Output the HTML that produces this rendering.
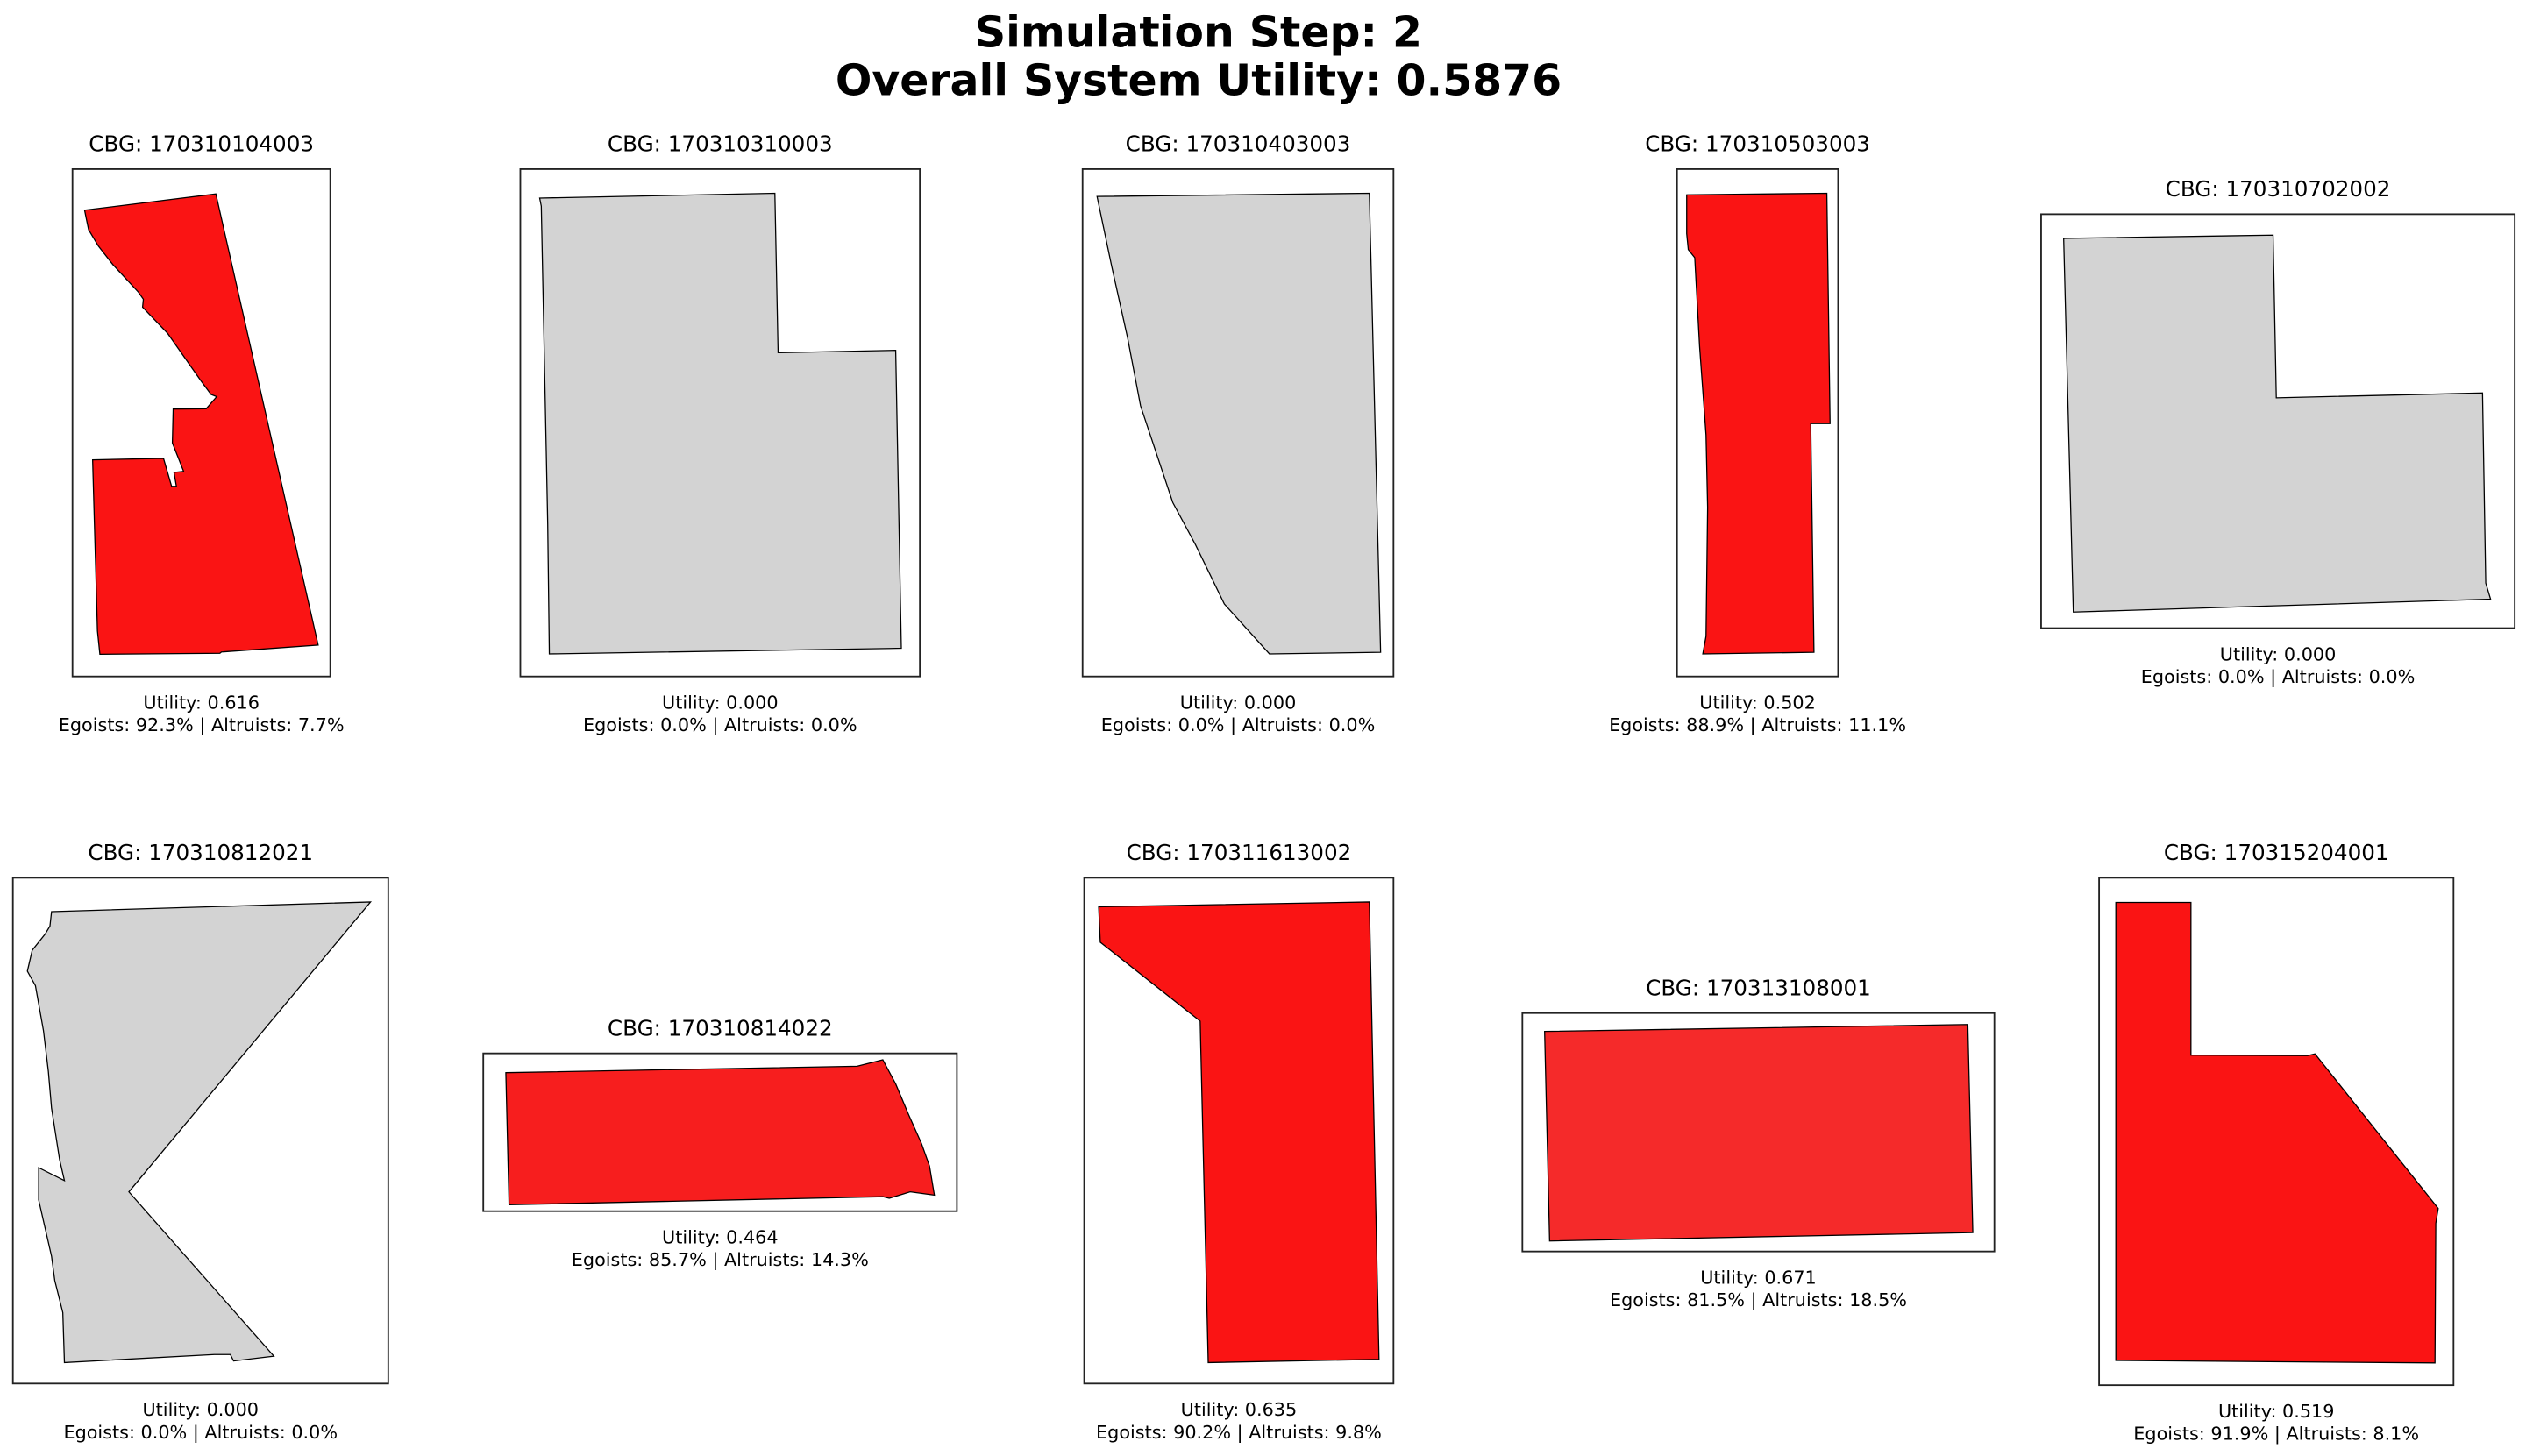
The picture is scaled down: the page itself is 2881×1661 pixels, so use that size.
<!DOCTYPE html>
<html><head><meta charset="utf-8"><style>
html,body{margin:0;padding:0;background:#fff;}
svg{display:block;}
text{font-family:"DejaVu Sans","Liberation Sans",sans-serif;fill:#000;}
</style></head><body>
<svg id="fig" width="2881" height="1661" viewBox="0 0 1568 904" preserveAspectRatio="none" xmlns="http://www.w3.org/2000/svg">
<text x="744" y="29" font-size="26.6" font-weight="bold" text-anchor="middle">Simulation Step: 2</text>
<text x="744" y="59" font-size="26.6" font-weight="bold" text-anchor="middle">Overall System Utility: 0.5876</text>
<g id="panels"></g>
</svg>
<script>
const cbgIds = ["170310104003","170310310003","170310403003","170310503003","170310702002","170310812021","170310814022","170311613002","170313108001","170315204001"];
const utilities = [0.616,0.000,0.000,0.502,0.000,0.000,0.464,0.635,0.671,0.519];
const egoistPct = [92.3,0.0,0.0,88.9,0.0,0.0,85.7,90.2,81.5,91.9];
const altruistPct = [7.7,0.0,0.0,11.1,0.0,0.0,14.3,9.8,18.5,8.1];
const boxes = [[45,105,205,420],[323,105,571,420],[672,105,865,420],[1041,105,1141,420],[1267,133,1561,390],
 [8,545,241,859],[300,654,594,752],[673,545,865,859],[945,629,1238,777],[1303,545,1523,860]];
const fills = ["#fa1414","#d3d3d3","#d3d3d3","#fa1414","#d3d3d3","#d3d3d3","#f71e1e","#fa1414","#f52a2a","#fa1414"];
const shapes = [
 [[52.5,130.5],[134,120.4],[197.5,400.5],[137.5,404.8],[136.5,405.6],[62,406.2],[60.5,391.8],[57.5,285.5],[101.5,284.6],[106.5,301.9],[109.5,301.9],[108,293.3],[114,292.7],[107,275],[107.5,254],[128,253.8],[134.5,246.3],[131,244.9],[125,236.8],[104,206.9],[88.5,190.7],[89,185.8],[86,181.5],[70,164.2],[61,152.7],[55,142.6],[53.5,135.4]],
 [[335,123],[481,120],[483,219],[556,217.5],[559.5,402.5],[341,406],[340,325.5],[336,128]],
 [[681,122],[850,120],[857,405],[788,406],[760,375],[742,338],[728,312],[718,282],[708,252],[700,210],[690,165]],
 [[1047,121],[1134,120],[1136,263],[1124,263],[1126,405],[1057,406],[1059,395],[1060,315],[1059,270],[1055,215],[1052,160],[1048,155],[1047,145]],
 [[1281,148],[1411,146],[1413,247],[1541,244],[1543,362],[1546,372],[1287,380]],
 [[32,566],[230,560],[80,740],[170,842],[145,845],[143,841],[133,841],[40,846],[39,815],[34,795],[32,780],[24,745],[24,725],[40,733],[37,720],[32,688],[30,665],[27,640],[22,612],[17,603],[20,590],[28,580],[31,575]],
 [[314,666],[532,662],[548,658],[556,673],[564,692],[572,710],[577,724],[580,742],[565,740],[552,744],[548,743],[316,748]],
 [[682,563],[850,560],[856,844],[750,846],[745,634],[683,585]],
 [[958.8,640.4],[1221.5,636.1],[1224.6,765.3],[961.9,770.5]],
 [[1313.4,560.3],[1360,560.3],[1360,655.1],[1432.4,655.4],[1437,654.3],[1513.5,750.3],[1512,759.5],[1511.5,846.2],[1313.4,844.7]]
];
const NS="http://www.w3.org/2000/svg";
const g=document.getElementById("panels");
function mk(tag,attrs){const e=document.createElementNS(NS,tag);for(const k in attrs)e.setAttribute(k,attrs[k]);return e;}
cbgIds.forEach((id,i)=>{
  const [x0,y0,x1,y1]=boxes[i];
  const cx=(x0+x1)/2;
  const grp=mk("g",{});
  
  
  const t=mk("text",{x:cx,y:y0-11,"font-size":"13.4","text-anchor":"middle"});
  t.textContent="CBG: "+id;
  
  
  grp.appendChild(t);
  const r=mk("rect",{x:x0,y:y0,width:x1-x0,height:y1-y0,fill:"none",stroke:"#222","stroke-width":"1"});
  
  
  grp.appendChild(r);
  const p=mk("polygon",{points:shapes[i].map(q=>q.join(",")).join(" "),fill:fills[i],stroke:"#000","stroke-width":"0.7"});
  
  
  grp.appendChild(p);
  const u=mk("text",{x:cx,y:y1+20,"font-size":"11.3","text-anchor":"middle"});
  u.textContent="Utility: "+utilities[i].toFixed(3);
  
  
  grp.appendChild(u);
  const e=mk("text",{x:cx,y:y1+34,"font-size":"11.3","text-anchor":"middle"});
  e.textContent="Egoists: "+egoistPct[i].toFixed(1)+"% | Altruists: "+altruistPct[i].toFixed(1)+"%";
  
  
  grp.appendChild(e);
  g.appendChild(grp);
});
</script>
</body></html>
